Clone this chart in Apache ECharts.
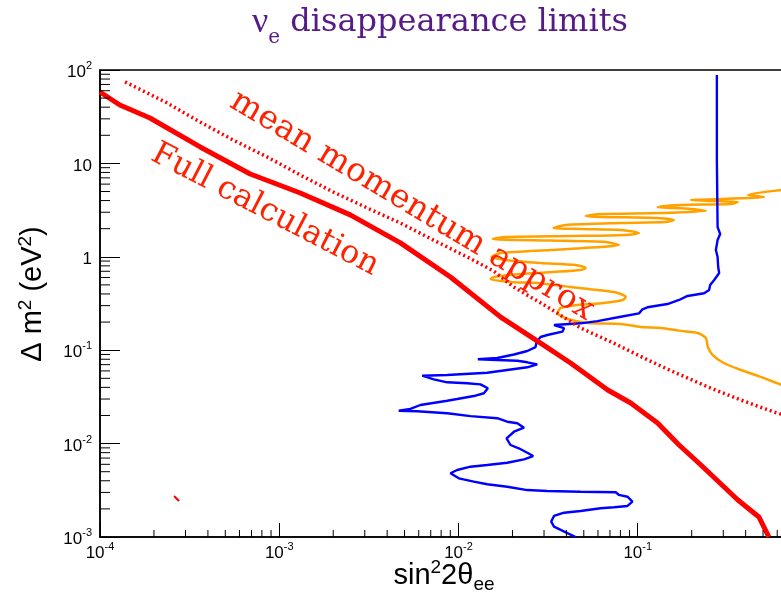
<!DOCTYPE html>
<html>
<head>
<meta charset="utf-8">
<script src="https://cdn.jsdelivr.net/npm/echarts@6/dist/echarts.min.js"></script>
<style>
  html, body { margin: 0; padding: 0; background: #fff; overflow: hidden; }
  #chart { width: 830px; height: 596px; }
</style>
</head>
<body>
<div id="chart"></div>
<script>
// Axis ranges (sin^2 2θ on x, Δm^2 in eV^2 on y, both logarithmic)
const X_MIN = 1e-4, X_MAX = 1;
const Y_MIN = 1e-3, Y_MAX = 100;

// Full oscillation calculation (thick red)
const fullCalc = [
  [1e-4, 58.1], [1.29e-4, 42.2], [1.90e-4, 30.6], [3.62e-4, 15.0], [6.89e-4, 7.7],
  [1.31e-3, 4.82], [2.49e-3, 2.81], [4.74e-3, 1.41], [9.02e-3, 0.608], [0.0172, 0.226],
  [0.0287, 0.119], [0.0422, 0.073], [0.068, 0.0375], [0.0914, 0.0272], [0.129, 0.0166],
  [0.170, 0.00966], [0.225, 0.0059], [0.362, 0.00249], [0.474, 0.00164], [0.539, 0.001]
];

// Small stray piece of the full calculation contour
const fullCalcFragment = [[2.59e-4, 2.75e-3], [2.76e-4, 2.43e-3]];

// Mean momentum approximation (dotted red)
const meanMomentum = [
  [1.38e-4, 74.5], [2.37e-4, 44.4], [3.62e-4, 27.7], [5.53e-4, 17.8], [8.57e-4, 11.7],
  [1.31e-3, 7.52], [2.00e-3, 4.94], [3.10e-3, 3.33], [4.74e-3, 2.30], [7.25e-3, 1.51],
  [0.0112, 0.995], [0.0157, 0.705], [0.0203, 0.475], [0.0314, 0.290], [0.0480, 0.173],
  [0.0735, 0.119], [0.114, 0.0785], [0.159, 0.0584], [0.246, 0.0404], [0.376, 0.0293],
  [0.575, 0.0218], [0.70, 0.0195]
];

// Blue exclusion contour
const contourBlue = [
  [0.2763, 88.4], [0.2763, 10.9], [0.2789, 2.08], [0.2883, 1.754], [0.2789, 1.513],
  [0.2728, 1.183], [0.2789, 0.995], [0.2810, 0.777], [0.2846, 0.671], [0.2669, 0.565],
  [0.2535, 0.499], [0.2502, 0.441], [0.2346, 0.407], [0.1895, 0.381], [0.1701, 0.345],
  [0.1465, 0.312], [0.1133, 0.288], [0.1062, 0.274], [0.1017, 0.248], [0.0804, 0.228],
  [0.0596, 0.205], [0.0480, 0.194], [0.0341, 0.186], [0.0388, 0.172], [0.0380, 0.158],
  [0.0313, 0.1455], [0.0287, 0.1385], [0.0273, 0.123], [0.0269, 0.108], [0.0242, 0.098],
  [0.0204, 0.090], [0.01645, 0.0825], [0.01282, 0.0799], [0.01645, 0.0786], [0.0213, 0.0772],
  [0.0242, 0.0742], [0.0275, 0.0706], [0.0242, 0.0656], [0.0187, 0.0614], [0.01446, 0.0574],
  [0.00865, 0.0543], [0.00627, 0.0533], [0.00728, 0.0488], [0.00865, 0.0453], [0.01118, 0.0442],
  [0.01327, 0.0431], [0.01458, 0.0391], [0.01385, 0.0346], [0.01218, 0.0323], [0.00983, 0.0300],
  [0.00865, 0.0288], [0.00613, 0.0259], [0.00539, 0.0235], [0.00464, 0.0225], [0.00588, 0.0222],
  [0.00865, 0.0211], [0.01167, 0.0197], [0.01645, 0.0187], [0.0187, 0.01716], [0.0213, 0.0165],
  [0.0232, 0.0148], [0.0204, 0.0134], [0.01854, 0.0114], [0.0195, 0.00966], [0.0217, 0.00891],
  [0.0242, 0.00799], [0.0261, 0.00736], [0.0232, 0.00679], [0.0187, 0.00624], [0.01446, 0.0059],
  [0.01167, 0.00566], [0.00983, 0.00522], [0.00902, 0.00481], [0.01004, 0.00425], [0.01218, 0.00391],
  [0.01446, 0.00367], [0.0187, 0.00345], [0.0242, 0.00318], [0.0313, 0.00311], [0.0480, 0.00305],
  [0.0754, 0.00301], [0.0786, 0.00282], [0.0876, 0.0027], [0.0934, 0.00239], [0.0876, 0.00215],
  [0.0737, 0.00208], [0.0621, 0.00203], [0.0480, 0.0019], [0.0388, 0.00182], [0.0341, 0.00168],
  [0.0329, 0.00146], [0.0341, 0.00129], [0.0405, 0.0011], [0.0450, 0.001]
];

// Orange allowed-region contour (oscillating)
const contourOrange = [
  [0.637, 0.0424], [0.575, 0.0457], [0.468, 0.0530], [0.376, 0.0614], [0.302, 0.0729],
  [0.262, 0.0888], [0.246, 0.108], [0.240, 0.135], [0.216, 0.153], [0.174, 0.161],
  [0.1345, 0.173], [0.104, 0.177], [0.0804, 0.191], [0.0526, 0.196], [0.0406, 0.216],
  [0.0357, 0.250], [0.0371, 0.283], [0.0462, 0.305], [0.0646, 0.320], [0.0825, 0.345],
  [0.0857, 0.371], [0.0773, 0.410], [0.0598, 0.441], [0.0422, 0.475], [0.0276, 0.524],
  [0.0195, 0.537], [0.0151, 0.578], [0.0157, 0.608], [0.0222, 0.654], [0.0339, 0.688],
  [0.0480, 0.722], [0.0512, 0.759], [0.0450, 0.817], [0.0287, 0.858], [0.0183, 0.924],
  [0.0153, 0.995], [0.0172, 1.098], [0.0327, 1.183], [0.0621, 1.273], [0.0783, 1.338],
  [0.0663, 1.440], [0.0327, 1.494], [0.0155, 1.551], [0.0183, 1.629], [0.0422, 1.670],
  [0.0857, 1.712], [0.1013, 1.798], [0.0804, 1.936], [0.0480, 1.985], [0.0339, 2.034],
  [0.0396, 2.191], [0.0804, 2.301], [0.1434, 2.359], [0.1589, 2.477], [0.1261, 2.603],
  [0.0621, 2.668], [0.0512, 2.734], [0.0621, 2.872], [0.1345, 2.944], [0.240, 3.093],
  [0.1978, 3.250], [0.1293, 3.414], [0.1738, 3.587], [0.331, 3.677], [0.362, 3.862],
  [0.2728, 3.959], [0.1978, 4.056], [0.2909, 4.157], [0.506, 4.369], [0.412, 4.589],
  [0.637, 5.19]
];

// Minor tick values (2..9 times each decade)
function minorValues(lo, hi) {
  const out = [];
  for (let d = lo; d < hi; d *= 10) {
    for (let k = 2; k <= 9; k++) out.push(+(k * d).toPrecision(3));
  }
  return out;
}
const xMinor = minorValues(X_MIN, X_MAX);
const yMinor = minorValues(Y_MIN, Y_MAX);

const SANS = '"Liberation Sans", Arial, Helvetica, sans-serif';
const SERIF = '"DejaVu Serif", serif';
const TITLE_COLOR = '#571b86';
const LABEL_RED = '#ff2200';

function powLabel(v) {
  const e = Math.round(Math.log10(v));
  if (e === 0) return '{b|1}';
  if (e === 1) return '{b|10}';
  return '{b|10}{s|' + e + '}';
}
const labelRich = {
  b: { fontFamily: SANS, fontSize: 17, lineHeight: 24, color: '#000' },
  s: { fontFamily: SANS, fontSize: 11, lineHeight: 12, verticalAlign: 'top', color: '#000' }
};

const chart = echarts.init(document.getElementById('chart'), null, { renderer: 'canvas' });

const option = {
  animation: false,
  backgroundColor: '#fff',
  grid: {
    left: 100, top: 70, right: 13, bottom: 59,
    show: true, borderColor: '#000', borderWidth: 1.5, backgroundColor: 'transparent'
  },
  xAxis: {
    type: 'log', logBase: 10, min: X_MIN, max: X_MAX,
    axisLine: { lineStyle: { color: '#000', width: 1.5 } },
    axisTick: { inside: true, length: 14, lineStyle: { color: '#000', width: 1 } },
    splitLine: { show: false },
    axisLabel: { margin: 4, formatter: powLabel, rich: labelRich }
  },
  yAxis: {
    type: 'log', logBase: 10, min: Y_MIN, max: Y_MAX,
    axisLine: { lineStyle: { color: '#000', width: 1.5 } },
    axisTick: { inside: true, length: 20, lineStyle: { color: '#000', width: 1 } },
    splitLine: { show: false },
    axisLabel: { margin: 8, formatter: powLabel, rich: labelRich, padding: [5, 0, 0, 0] }
  },
  series: [
    {
      type: 'custom', silent: true, z: 5,
      data: xMinor.map(v => [v, Y_MIN]),
      renderItem: (params, api) => {
        const p = api.coord([api.value(0), Y_MIN]);
        return { type: 'line', shape: { x1: p[0], y1: p[1], x2: p[0], y2: p[1] - 7 },
                 style: { stroke: '#000', lineWidth: 1 } };
      }
    },
    {
      type: 'custom', silent: true, z: 5,
      data: yMinor.map(v => [X_MIN, v]),
      renderItem: (params, api) => {
        const p = api.coord([X_MIN, api.value(1)]);
        return { type: 'line', shape: { x1: p[0], y1: p[1], x2: p[0] + 10, y2: p[1] },
                 style: { stroke: '#000', lineWidth: 1 } };
      }
    },
    {
      type: 'line', data: contourOrange, showSymbol: false, smooth: 0.25, z: 2,
      lineStyle: { color: '#ffa200', width: 2.5 }
    },
    {
      type: 'line', data: contourBlue, showSymbol: false, z: 3,
      lineStyle: { color: '#0000ff', width: 2.4 }
    },
    {
      type: 'line', data: meanMomentum, showSymbol: false, z: 4,
      lineStyle: { color: '#ff0000', width: 3.5, type: [2, 3] }
    },
    {
      type: 'line', data: fullCalc, showSymbol: false, z: 4,
      lineStyle: { color: '#ff0000', width: 5 }
    },
    {
      type: 'line', data: fullCalcFragment, showSymbol: false, z: 4,
      lineStyle: { color: '#ff0000', width: 2 }
    }
  ],
  graphic: [
    {
      type: 'text', x: 440, y: 23, z: 100,
      style: {
        text: '{v|ν}{e|e}{g| disappearance limits}',
        align: 'center', verticalAlign: 'middle',
        rich: {
          v: { fontFamily: '"Liberation Serif", serif', fontSize: 36, lineHeight: 50, fill: TITLE_COLOR },
          g: { fontFamily: SERIF, fontSize: 32, lineHeight: 50, fill: TITLE_COLOR },
          e: { fontFamily: SERIF, fontSize: 20, lineHeight: 20, verticalAlign: 'bottom', fill: TITLE_COLOR }
        }
      }
    },
    {
      type: 'text', x: 33, y: 294, rotation: Math.PI / 2, z: 100,
      style: {
        text: '{m|Δ m}{s|2}{m| (eV}{s|2}{m|)}',
        align: 'center', verticalAlign: 'middle',
        rich: {
          m: { fontFamily: SANS, fontSize: 29, lineHeight: 34, fill: '#000' },
          s: { fontFamily: SANS, fontSize: 19, lineHeight: 18, verticalAlign: 'top', fill: '#000' }
        }
      }
    },
    {
      type: 'text', x: 444, y: 576, z: 100,
      style: {
        text: '{m|sin}{s|2}{m|2θ}{u|ee}',
        align: 'center', verticalAlign: 'middle',
        rich: {
          m: { fontFamily: SANS, fontSize: 29, lineHeight: 36, fill: '#000' },
          s: { fontFamily: SANS, fontSize: 19, lineHeight: 20, verticalAlign: 'top', fill: '#000' },
          u: { fontFamily: SANS, fontSize: 19, lineHeight: 16, verticalAlign: 'bottom', fill: '#000' }
        }
      }
    },
    {
      type: 'text', x: 412, y: 206, rotation: -0.54, z: 100,
      style: {
        text: 'mean momentum approx', fill: LABEL_RED,
        font: '33px "DejaVu Serif", serif', align: 'center', verticalAlign: 'middle'
      }
    },
    {
      type: 'text', x: 265, y: 210, rotation: -0.48, z: 100,
      style: {
        text: 'Full calculation', fill: LABEL_RED,
        font: '32px "DejaVu Serif", serif', align: 'center', verticalAlign: 'middle'
      }
    }
  ]
};

chart.setOption(option);
</script>
</body>
</html>
